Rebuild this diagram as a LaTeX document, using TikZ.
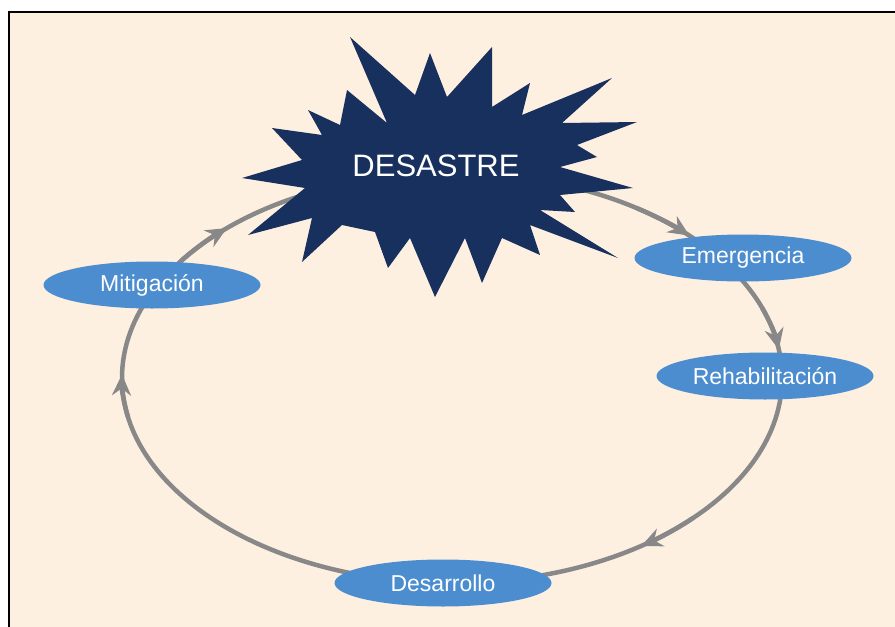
\documentclass[tikz,border=0pt]{standalone}
\usepackage{fontspec}
\setmainfont{Liberation Sans}
\usetikzlibrary{shapes.geometric,arrows.meta}
\definecolor{paper}{HTML}{FEF0E1}
\definecolor{burst}{HTML}{17305E}
\definecolor{phase}{HTML}{4B8DCF}
\definecolor{ring}{HTML}{888888}
\tikzset{
  phasebox/.style={ellipse, fill=phase, minimum width=217pt, minimum height=47pt,
    inner sep=0pt, text=white, font=\fontsize{23}{26}\selectfont},
  ringline/.style={draw=ring, line width=4.5pt},
  ringarrow/.style={ringline, -{Stealth[length=21pt,width=19pt,inset=7pt]}},
}
\begin{document}
\begin{tikzpicture}[x=1pt,y=-1pt]
\useasboundingbox (0,0) rectangle (895,627);
\fill[white] (0,0) rectangle (895,627);
\fill[paper] (9,12) rectangle (895,627);
\draw[line width=2.5pt] (9,627) -- (9,12) -- (895,12);

% the disaster cycle
\coordinate (ctr) at (452,378);
\draw[ringline] (ctr) ellipse [x radius=330, y radius=205];
\foreach \a in {-44,-8,55,181,227} {
  \draw[ringarrow] (ctr) ++(\a-12:330 and 205)
    arc[start angle=\a-12, end angle=\a, x radius=330, y radius=205];
}

% starburst
\fill[burst] (350,37) -- (415,95) -- (430,53) -- (447,97) -- (492,47) -- (492,107)
  -- (530,83) -- (522,115) -- (612,78) -- (562,123) -- (637,122) -- (577,145)
  -- (597,157) -- (560,167) -- (633,188) -- (560,195) -- (575,212) -- (540,210)
  -- (618,258) -- (530,225) -- (540,255) -- (502,238) -- (482,283) -- (465,238)
  -- (435,297) -- (410,238) -- (388,268) -- (375,232) -- (342,225) -- (302,262)
  -- (312,218) -- (248,235) -- (305,188) -- (242,178) -- (302,160) -- (272,128)
  -- (322,135) -- (308,110) -- (340,125) -- (347,90) -- (387,123) -- cycle;
\node[text=white, font=\fontsize{31}{34}\selectfont] (desastre) at (436,166) {DESASTRE};

% phases
\node[phasebox] (emerg) at (743,258) {Emergencia};
\node[phasebox] (rehab) at (765,376) {Rehabilitación};
\node[phasebox] (desar) at (443,583) {Desarrollo};
\node[phasebox] (mitig) at (152,285) {Mitigación};
\end{tikzpicture}
\end{document}
